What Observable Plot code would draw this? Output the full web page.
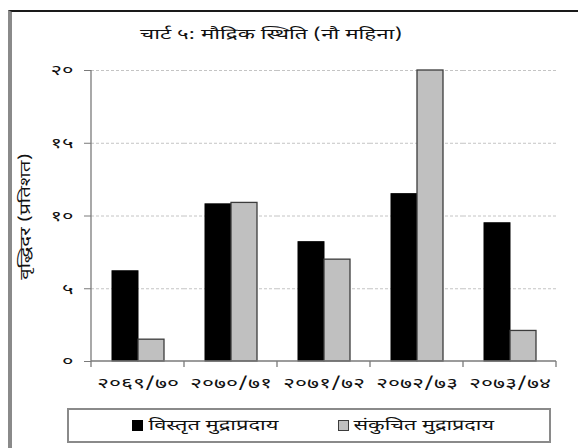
<!DOCTYPE html>
<html><head><meta charset="utf-8">
<script src="https://cdn.jsdelivr.net/npm/d3@7"></script>
<script src="https://cdn.jsdelivr.net/npm/@observablehq/plot@0.6"></script>
<style>
body{margin:0;background:#fff;}
#wrap{position:relative;width:578px;height:448px;overflow:hidden;background:#fff;
  font-family:"Noto Sans Devanagari","Noto Sans","Lohit Devanagari",sans-serif;color:#111;}
#frame{position:absolute;left:8px;top:10px;width:580px;height:450px;border-top:2px solid #1a1a1a;border-left:4px solid #8a8a8a;box-sizing:border-box;}
.stretch{position:absolute;white-space:nowrap;display:inline-block;color:#111;}
#chart{position:absolute;left:0;top:0;}
#legend{position:absolute;left:67px;top:408px;width:484px;height:35px;border:2px solid #8a8a8a;box-sizing:border-box;}
.sw{position:absolute;width:11px;height:11px;box-sizing:border-box;}
</style></head><body>
<div id="wrap">
  <div id="frame"></div>
  <div id="chart"></div>
  <div id="legend"></div>
</div>
<script>
const titleText = "चार्ट ५: मौद्रिक स्थिति (नौ महिना)";
const years = ["२०६९/७०", "२०७०/७१", "२०७१/७२", "२०७२/७३", "२०७३/७४"];
const seriesNames = ["विस्तृत मुद्राप्रदाय", "संकुचित मुद्राप्रदाय"];
const broadMoney = [6.2, 10.8, 8.2, 11.5, 9.5];
const narrowMoney = [1.5, 10.9, 7.0, 20, 2.1];
const yTicks = [0, 5, 10, 15, 20];
const yTickLabels = ["०", "५", "१०", "१५", "२०"];
const yLabel = "वृद्धिदर (प्रतिशत)";
const seriesFill = ["#000000", "#c0c0c0"];
const seriesStroke = ["#000000", "#3c3c3c"];

const rows = years.flatMap((yr, i) => [
  {year: yr, series: seriesNames[0], value: broadMoney[i]},
  {year: yr, series: seriesNames[1], value: narrowMoney[i]}
]);

const FONT = '"Noto Sans Devanagari","Noto Sans","Lohit Devanagari",sans-serif';
const wrap = document.getElementById("wrap");

function placeText(parent, text, cx, cy, w, size, rot) {
  const el = document.createElement("span");
  el.className = "stretch";
  el.textContent = text;
  el.style.fontSize = size + "px";
  el.style.lineHeight = "1";
  parent.appendChild(el);
  const nat = el.offsetWidth;
  const k = w / nat;
  el.style.left = (cx - nat / 2) + "px";
  el.style.top = (cy - el.offsetHeight / 2) + "px";
  el.style.transformOrigin = "50% 50%";
  el.style.transform = (rot ? `rotate(${rot}deg) ` : "") + `scaleX(${k})`;
  return el;
}

function axisLines(index, scales, values, dimensions, context) {
  const {fx, y} = scales;
  const g = d3.create("svg:g").attr("stroke", "#7a7a7a").attr("stroke-width", 1.3).attr("fill", "none");
  const xs = years.map(c => fx(c));
  const xEnd = fx(years[years.length - 1]) + fx.bandwidth();
  xs.push(xEnd);
  const y0 = y(0), yTop = y(yTicks[yTicks.length - 1]);
  g.append("line").attr("x1", xs[0]).attr("x2", xEnd).attr("y1", y0).attr("y2", y0);
  g.append("line").attr("x1", xs[0]).attr("x2", xs[0]).attr("y1", yTop).attr("y2", y0);
  for (const x of xs) g.append("line").attr("x1", x).attr("x2", x).attr("y1", y0).attr("y2", y0 + 6);
  return g.node();
}

const chart = Plot.plot({
  width: 578, height: 400,
  marginTop: 70, marginBottom: 39, marginLeft: 89, marginRight: 21,
  style: {fontFamily: FONT, fontSize: "15px", color: "#111", background: "transparent"},
  fx: {domain: years, padding: 0, label: null},
  x: {domain: seriesNames, paddingInner: 0, paddingOuter: 0.733, axis: null},
  y: {domain: [0, 20], axis: null},
  marks: [
    Plot.ruleY(yTicks.slice(1), {stroke: "#c4c4c4", strokeWidth: 1, strokeDasharray: "3,2"}),
    Plot.axisFx({anchor: "bottom", tickSize: 0, tickPadding: 16, label: null, fontSize: 15}),
    Plot.axisY(yTicks, {tickFormat: d => yTickLabels[yTicks.indexOf(d)], tickSize: 7, tickPadding: 11, label: null, stroke: "#7a7a7a", fontSize: 15}),
    Plot.barY(rows.filter(d => d.series === seriesNames[0]), {fx: "year", x: "series", y: "value", fill: seriesFill[0], stroke: seriesStroke[0], strokeWidth: 1}),
    Plot.barY(rows.filter(d => d.series === seriesNames[1]), {fx: "year", x: "series", y: "value", fill: seriesFill[1], stroke: seriesStroke[1], strokeWidth: 1.3}),
    Plot.frame({facet: "super", render: axisLines})
  ]
});
document.getElementById("chart").appendChild(chart);

d3.select(chart).selectAll('[aria-label="fx-axis tick label"] text')
  .attr("textLength", 82).attr("lengthAdjust", "spacingAndGlyphs");
d3.select(chart).selectAll('[aria-label="y-axis tick label"] text')
  .each(function() { const n = this.textContent.length; d3.select(this).attr("textLength", n * 11.5).attr("lengthAdjust", "spacingAndGlyphs"); });

placeText(wrap, titleText, 271, 35, 262, 15, 0);
placeText(wrap, yLabel, 26, 216, 127, 15, -90);

const legend = document.getElementById("legend");
const swX = [63, 269];
const txtCx = [144, 354];
const txtW = [130, 140];
seriesNames.forEach((name, i) => {
  const sw = document.createElement("div");
  sw.className = "sw";
  sw.style.left = swX[i] + "px";
  sw.style.top = "10px";
  sw.style.background = seriesFill[i];
  sw.style.border = "1px solid " + seriesStroke[i];
  legend.appendChild(sw);
  placeText(legend, name, txtCx[i], 16, txtW[i], 15, 0);
});
</script>
</body></html>
